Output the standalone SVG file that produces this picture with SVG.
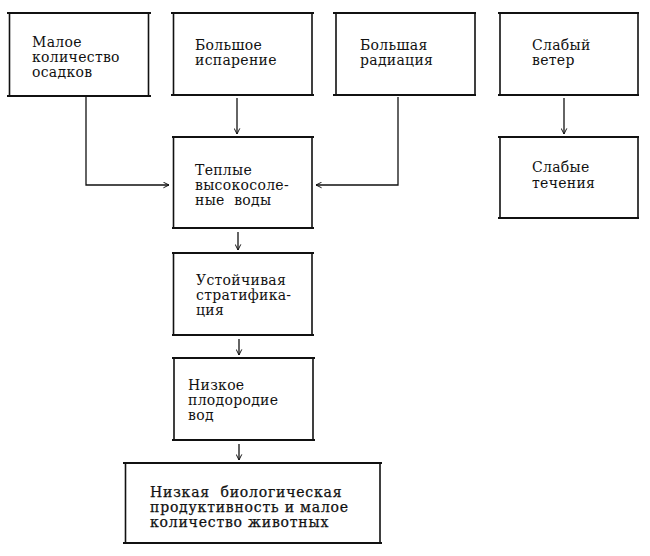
<svg xmlns="http://www.w3.org/2000/svg" width="650" height="556" viewBox="0 0 650 556">
<style>
.h{stroke:#111;stroke-width:2;fill:none}
.v{stroke:#111;stroke-width:1.6;fill:none}
.c{stroke:#111;stroke-width:1.3;fill:none}
text{font-family:"DejaVu Serif","Liberation Serif",serif;font-size:14px;fill:#111;letter-spacing:0.3px}
.w{letter-spacing:0.8px;stroke:#111;stroke-width:0.25}
</style>
<defs>
<marker id="a" viewBox="0 0 10 10" refX="9" refY="5" markerWidth="7" markerHeight="7" markerUnits="userSpaceOnUse" orient="auto">
<polyline points="1,1 9,5 1,9" fill="none" stroke="#111" stroke-width="1.4"/>
</marker>
</defs>
<rect width="650" height="556" fill="#fff"/>
<g id="n1">
<path class="h" d="M7 13H151M7 96H151"/><path class="v" d="M9.5 13V96M148.5 13V96"/>
<text x="32" y="47">Малое</text><text x="32" y="62">количество</text><text x="32" y="77">осадков</text>
</g>
<g id="n2">
<path class="h" d="M171 13H314M171 95H314"/><path class="v" d="M173.5 13V95M312 13V95"/>
<text x="195" y="50">Большое</text><text x="195" y="65">испарение</text>
</g>
<g id="n4">
<path class="h" d="M333 13H476M333 95H476"/><path class="v" d="M336 13V95M475 13V95"/>
<text x="360" y="50">Большая</text><text x="360" y="65">радиация</text>
</g>
<g id="n5">
<path class="h" d="M498 13H639M498 95H639"/><path class="v" d="M500 13V95M638 13V95"/>
<text x="532" y="50">Слабый</text><text x="532" y="65">ветер</text>
</g>
<g id="n6">
<path class="h" d="M498 137H639M498 218H639"/><path class="v" d="M500 137V218M638 137V218"/>
<text x="532" y="172">Слабые</text><text x="532" y="188">течения</text>
</g>
<g id="n3">
<path class="h" d="M172 137H314M172 228H314"/><path class="v" d="M173.5 137V228M312 137V228"/>
<text x="195" y="175">Теплые</text><text x="195" y="190">высокосоле-</text><text x="195" y="205" xml:space="preserve">ные  воды</text>
</g>
<g id="n7">
<path class="h" d="M172 253H314M172 335H314"/><path class="v" d="M173.5 253V335M312 253V335"/>
<text x="196" y="285">Устойчивая</text><text x="196" y="300">стратифика-</text><text x="196" y="315">ция</text>
</g>
<g id="n8">
<path class="h" d="M172 358H315M172 440H315"/><path class="v" d="M174 358V440M313 358V440"/>
<text x="188" y="390">Низкое</text><text x="188" y="405">плодородие</text><text x="188" y="420">вод</text>
</g>
<g id="n9">
<path class="h" d="M123 463H382M123 543H382"/><path class="v" d="M125.5 463V543M380 463V543"/>
<text class="w" x="150" y="497" xml:space="preserve">Низкая  биологическая</text><text class="w" x="150" y="512">продуктивность и малое</text><text class="w" x="150" y="527">количество животных</text>
</g>
<g id="connectors">
<path class="c" d="M86 97V185H169" marker-end="url(#a)"/>
<path class="c" d="M398 97V185H316" marker-end="url(#a)"/>
<path class="c" d="M237 98V134" marker-end="url(#a)"/>
<path class="c" d="M564 98V134" marker-end="url(#a)"/>
<path class="c" d="M238 232V250" marker-end="url(#a)"/>
<path class="c" d="M239 339V355" marker-end="url(#a)"/>
<path class="c" d="M239 444V460" marker-end="url(#a)"/>
</g>
</svg>
